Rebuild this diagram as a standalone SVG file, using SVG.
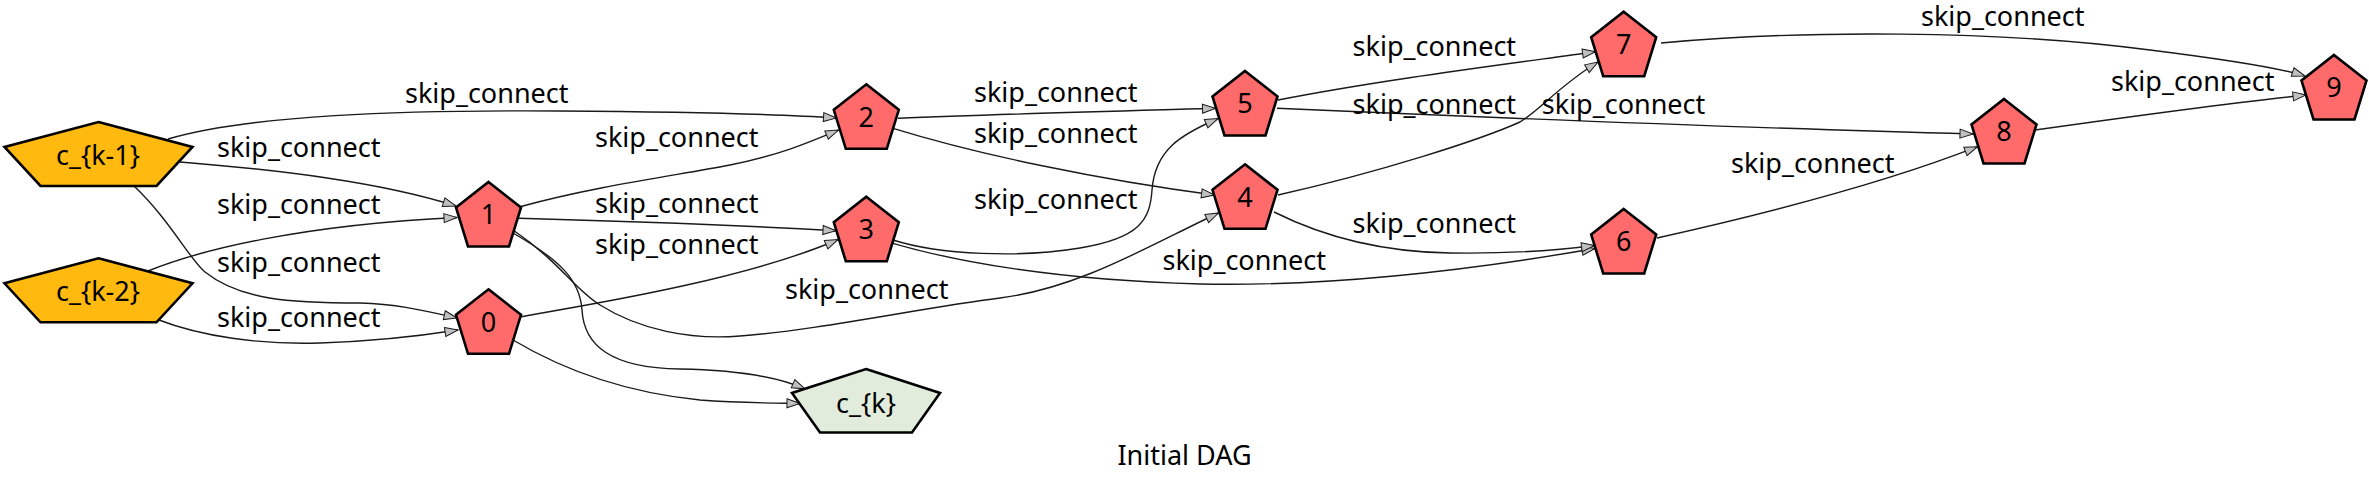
<svg xmlns="http://www.w3.org/2000/svg" width="2369" height="484" viewBox="0 0 2369 484">
<defs>
<style>
.edge{fill:none;stroke:#1a1a1a;stroke-width:1.4;marker-end:url(#arr)}
.lbl{font-family:"Noto Sans","Open Sans",sans-serif;font-size:27px;fill:#000}
.nt{font-family:"Noto Sans","Open Sans",sans-serif;font-size:27px;fill:#000;text-anchor:middle}
.op{fill:#ff6a6a;stroke:#000;stroke-width:2.6;stroke-linejoin:miter}
.in{fill:#ffb90f;stroke:#000;stroke-width:2.6}
.out{fill:#e1ecdd;stroke:#000;stroke-width:2.6}
</style>
<marker id="arr" markerUnits="userSpaceOnUse" markerWidth="16" markerHeight="12" refX="13" refY="4.5" orient="auto" overflow="visible">
<path d="M0,0 L13,4.5 L0,9 Z" fill="#c0c0c0" stroke="#1a1a1a" stroke-width="1"/>
</marker>
<polygon id="pent" points="0,0 32.5,25.5 20.5,64.5 -20.5,64.5 -32.5,25.5"/>
</defs>
<rect width="2369" height="484" fill="#fff"/>
<g id="connectors">
<path class="edge" d="M168,139 C250,115 400,110 560,111 C700,112 780,114 836.5,118"/>
<path class="edge" d="M180,162 C280,170 380,182 456,206"/>
<path class="edge" d="M148,271 C200,250 300,225 457,217.5"/>
<path class="edge" d="M134,186 C170,220 190,260 205,272 C240,300 290,303 360,303 C400,304 430,312 457,318"/>
<path class="edge" d="M159,320 C200,336 260,345 320,343 C380,341 420,336 458,330"/>
<path class="edge" d="M520,206.7 C600,185 680,175 730,165 C780,155 810,142 838.5,130"/>
<path class="edge" d="M519,218.3 C620,221 750,226 836,230.7"/>
<path class="edge" d="M520.7,316.7 C600,303 750,278 838,239.5"/>
<path class="edge" d="M513,230 C560,262 575,290 600,305 C640,330 690,340 740,336 C820,330 920,308 1000,298 C1080,288 1150,245 1218.5,213"/>
<path class="edge" d="M513,233 C560,260 580,280 582,310 C584,345 610,368 680,369 C740,370 780,378 805,388.8"/>
<path class="edge" d="M513,340 C560,368 620,392 700,400 C740,403 770,403 800,403.5"/>
<path class="edge" d="M898,118.3 C1000,114 1120,111 1215.5,108.3"/>
<path class="edge" d="M893,128.3 C980,155 1100,180 1214.5,195"/>
<path class="edge" d="M893,240 C940,255 1020,258 1080,248 C1140,238 1150,220 1152,190 C1155,150 1180,135 1218,118.5"/>
<path class="edge" d="M893,243.3 C950,260 1050,280 1200,284 C1350,287 1500,265 1595,248.5"/>
<path class="edge" d="M1278,100 C1380,80 1500,65 1595.5,51.7"/>
<path class="edge" d="M1277,108.3 C1500,118 1750,128 1973,134"/>
<path class="edge" d="M1278,195 C1380,172 1480,140 1520,122 C1540,110 1560,85 1598,62"/>
<path class="edge" d="M1274,212 C1320,235 1380,252 1450,253 C1520,254 1560,250 1594.5,245.5"/>
<path class="edge" d="M1661,43 C1800,30 2000,30 2150,50 C2230,60 2280,68 2305,76"/>
<path class="edge" d="M1657,238 C1760,215 1880,185 1977.5,146.7"/>
<path class="edge" d="M2035,130 C2120,118 2230,103 2306,95"/>
<text class="lbl" x="405" y="102.7">skip_connect</text>
<text class="lbl" x="217" y="156.7">skip_connect</text>
<text class="lbl" x="217" y="214.3">skip_connect</text>
<text class="lbl" x="217" y="272.3">skip_connect</text>
<text class="lbl" x="217" y="326.7">skip_connect</text>
<text class="lbl" x="595" y="147.3">skip_connect</text>
<text class="lbl" x="595" y="213">skip_connect</text>
<text class="lbl" x="595" y="253.5">skip_connect</text>
<text class="lbl" x="785" y="298.5">skip_connect</text>
<text class="lbl" x="974" y="101.5">skip_connect</text>
<text class="lbl" x="974" y="142.5">skip_connect</text>
<text class="lbl" x="974" y="208.5">skip_connect</text>
<text class="lbl" x="1162.5" y="270">skip_connect</text>
<text class="lbl" x="1352.6" y="55.5">skip_connect</text>
<text class="lbl" x="1352.6" y="114">skip_connect</text>
<text class="lbl" x="1541.8" y="114">skip_connect</text>
<text class="lbl" x="1352.6" y="233">skip_connect</text>
<text class="lbl" x="1921" y="26">skip_connect</text>
<text class="lbl" x="1731" y="173.3">skip_connect</text>
<text class="lbl" x="2111" y="90.7">skip_connect</text>
</g>
<g id="node-ck1">
<polygon class="in" points="98.5,122 192.5,147 156.5,186 40.5,186 4.5,147"/>
<text class="nt" x="98" y="164.5">c_{k-1}</text>
</g>
<g id="node-ck2">
<polygon class="in" points="98.5,258.3 192.5,283.3 156.5,322.3 40.5,322.3 4.5,283.3"/>
<text class="nt" x="98" y="300.8">c_{k-2}</text>
</g>
<g id="node-0">
<use href="#pent" class="op" x="488.5" y="289.3"/>
<text class="nt" x="488.5" y="331.5">0</text>
</g>
<g id="node-1">
<use href="#pent" class="op" x="488.5" y="182"/>
<text class="nt" x="488.5" y="224">1</text>
</g>
<g id="node-2">
<use href="#pent" class="op" x="866.3" y="84.3"/>
<text class="nt" x="866.3" y="126.5">2</text>
</g>
<g id="node-3">
<use href="#pent" class="op" x="866.3" y="196.7"/>
<text class="nt" x="866.3" y="239">3</text>
</g>
<g id="node-4">
<use href="#pent" class="op" x="1245" y="164.3"/>
<text class="nt" x="1245" y="206.5">4</text>
</g>
<g id="node-5">
<use href="#pent" class="op" x="1245" y="71"/>
<text class="nt" x="1245" y="113.3">5</text>
</g>
<g id="node-6">
<use href="#pent" class="op" x="1623.7" y="209"/>
<text class="nt" x="1623.7" y="251.3">6</text>
</g>
<g id="node-7">
<use href="#pent" class="op" x="1623.7" y="11.7"/>
<text class="nt" x="1623.7" y="54">7</text>
</g>
<g id="node-8">
<use href="#pent" class="op" x="2004" y="99"/>
<text class="nt" x="2004" y="141.3">8</text>
</g>
<g id="node-9">
<use href="#pent" class="op" x="2334" y="55"/>
<text class="nt" x="2334" y="97.3">9</text>
</g>
<g id="node-ck">
<polygon class="out" points="866,369 940,393 912,432.5 820,432.5 792,393"/>
<text class="nt" x="866" y="413">c_{k}</text>
</g>
<text class="nt" x="1184.5" y="465">Initial DAG</text>
</svg>
